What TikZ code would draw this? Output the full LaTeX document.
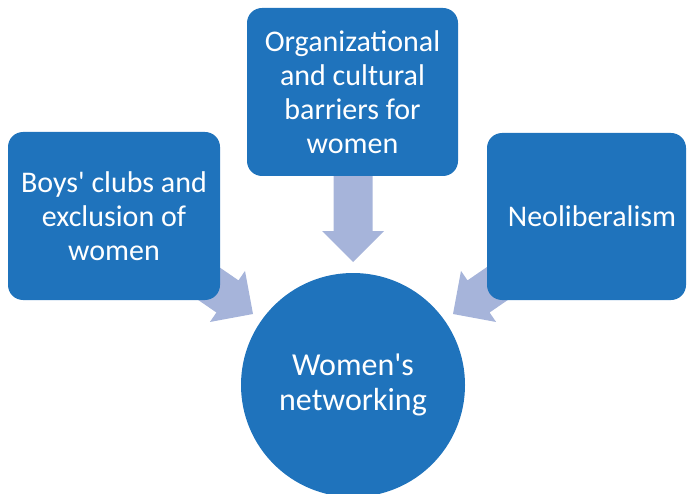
\documentclass[tikz,border=0pt]{standalone}
\usepackage{fontspec}
\setmainfont{Carlito}
\usetikzlibrary{calc}
\definecolor{boxblue}{HTML}{1F73BC}
\definecolor{arrowblue}{HTML}{A6B4DA}
\newcommand\blockarrow[3]{% tip, angle, length
  \fill[arrowblue] ($(#1)+(#2+180:#3)+(#2+90:19.5)$) -- ($(#1)+(#2+180:31)+(#2+90:19.5)$)
   -- ($(#1)+(#2+180:31)+(#2+90:31)$) -- (#1) -- ($(#1)+(#2+180:31)+(#2-90:31)$)
   -- ($(#1)+(#2+180:31)+(#2-90:19.5)$) -- ($(#1)+(#2+180:#3)+(#2-90:19.5)$) -- cycle;}
\tikzset{
  box/.style={fill=boxblue, rounded corners=15pt, text=white, align=center,
    font=\fontsize{30}{34}\selectfont, inner sep=0pt},
  boxtext/.style={text=white, align=center, font=\fontsize{30}{34}\selectfont, inner sep=0pt},
  hub/.style={circle, fill=boxblue, minimum size=224pt, inner sep=0pt, text=white,
    align=center, font=\fontsize{32}{35}\selectfont}
}
\begin{document}
\begin{tikzpicture}[x=1pt,y=-1pt]
\useasboundingbox (0,0) rectangle (687,494);
\clip (0,0) rectangle (687,494);
% arrow tips
\coordinate (tipL) at (253,314);
\coordinate (tipT) at (353,262);
\coordinate (tipR) at (453,314);
\blockarrow{tipL}{34.5}{80}
\blockarrow{tipT}{90}{100}
\blockarrow{tipR}{145.5}{80}
% boxes
\node[box, minimum width=212pt, minimum height=168pt] (boys) at (114,216)
  {Boys\textquotesingle{} clubs and\\exclusion of\\women};
\node[box, minimum width=211pt, minimum height=168pt] (org) at (352.5,92)
  {Organizational\\and cultural\\barriers for\\women};
\node[box, minimum width=199pt, minimum height=167pt] (neo) at (586.5,216.5) {};
\node[boxtext] (neotext) at (592,216) {Neoliberalism};
% hub
\node[hub] (net) at (353,385) {Women\textquotesingle s\\networking};
\end{tikzpicture}
\end{document}
